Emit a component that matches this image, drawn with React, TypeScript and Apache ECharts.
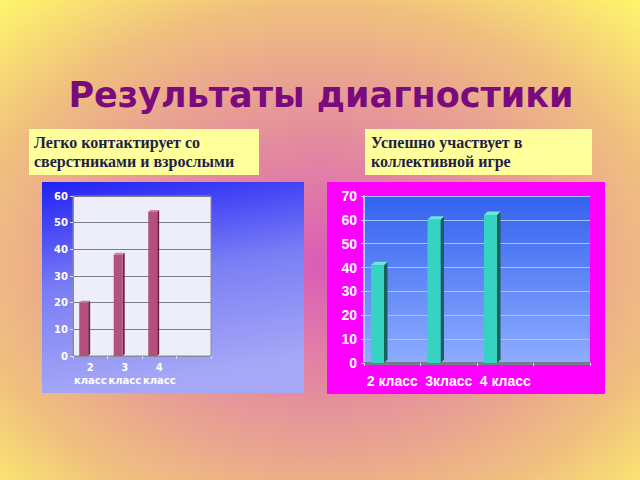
import React, { useEffect, useRef } from "react";
import * as echarts from "echarts";

const leftCategories = ["2\nкласс", "3\nкласс", "4\nкласс", ""];
const leftValues = [20, 38, 54];
const rightCategories = ["2 класс", "3класс", "4 класс", ""];
const rightValues = [41, 60, 62];

const titleText = "Результаты диагностики";
const leftCaption = "Легко контактирует со\nсверстниками и взрослыми";
const rightCaption = "Успешно участвует в\nколлективной игре";

function make3D(frontFrac: number, widthFrac: number, depth: number, front: string, side: string, topc: string) {
  return (params: any, api: any) => {
    const idx = api.value(0);
    const val = api.value(1);
    const base = api.coord([idx, 0]);
    const top = api.coord([idx, val]);
    const slot = api.size([1, 0])[0];
    const x0 = base[0] - slot * frontFrac;
    const w = slot * widthFrac;
    const y0 = top[1];
    const y1 = base[1];
    const d = depth;
    return {
      type: "group",
      children: [
        { type: "polygon", shape: { points: [[x0 + w, y0], [x0 + w + d, y0 - d], [x0 + w + d, y1 - d], [x0 + w, y1]] }, style: { fill: side } },
        { type: "polygon", shape: { points: [[x0, y0], [x0 + d, y0 - d], [x0 + w + d, y0 - d], [x0 + w, y0]] }, style: { fill: topc } },
        { type: "rect", shape: { x: x0, y: y0, width: w, height: y1 - y0 }, style: { fill: front } },
      ],
    };
  };
}

export default function App() {
  const ref = useRef<HTMLDivElement>(null);
  useEffect(() => {
    const chart = echarts.init(ref.current!, null, { renderer: "svg" });
    const option: any = {
      animation: false,
      graphic: [
        {
          type: "rect", z: -100, shape: { x: 0, y: 0, width: 640, height: 480 },
          style: {
            fill: {
              type: "radial", x: 0.5, y: 0.55, r: 0.75,
              colorStops: [
                { offset: 0, color: "#d95cb8" },
                { offset: 0.45, color: "#e79a96" },
                { offset: 0.72, color: "#f0c07e" },
                { offset: 1, color: "#fff86a" },
              ],
            },
          },
        },
        {
          type: "rect", z: -90, shape: { x: 42, y: 182, width: 262, height: 211 },
          style: {
            fill: {
              type: "linear", x: 0, y: 0, x2: 0.2, y2: 1,
              colorStops: [
                { offset: 0, color: "#2020f4" },
                { offset: 0.5, color: "#7a7ef4" },
                { offset: 1, color: "#a6a8f6" },
              ],
            },
          },
        },
        { type: "rect", z: -90, shape: { x: 327, y: 182, width: 278, height: 212 }, style: { fill: "#ff00ff" } },
        { type: "rect", z: -90, shape: { x: 29, y: 129, width: 230, height: 46 }, style: { fill: "#ffff9c" } },
        { type: "rect", z: -90, shape: { x: 365, y: 129, width: 227, height: 46 }, style: { fill: "#ffff9c" } },
        {
          type: "text", x: 321, y: 95,
          style: { text: titleText, fill: "#7a0a7e", font: "bold 35px 'DejaVu Sans'", align: "center", verticalAlign: "middle" },
        },
        {
          type: "text", x: 34, y: 133,
          style: { text: leftCaption, fill: "#1e1e48", font: "bold 16px 'Liberation Serif'", lineHeight: 19, align: "left", verticalAlign: "top" },
        },
        {
          type: "text", x: 371, y: 133,
          style: { text: rightCaption, fill: "#1e1e48", font: "bold 16px 'Liberation Serif'", lineHeight: 19, align: "left", verticalAlign: "top" },
        },
      ],
      grid: [
        { left: 73, top: 196, width: 138, height: 160, show: true, backgroundColor: "#eeeefa", borderColor: "#8a8a9a", borderWidth: 1, outerBoundsMode: "none", containLabel: false },
        {
          left: 364, top: 196, width: 226, height: 167, show: true, borderWidth: 0, outerBoundsMode: "none", containLabel: false,
          backgroundColor: {
            type: "linear", x: 0, y: 0, x2: 0, y2: 1,
            colorStops: [{ offset: 0, color: "#3462ee" }, { offset: 1, color: "#8eacff" }],
          },
        },
      ],
      xAxis: [
        {
          type: "category", gridIndex: 0, data: leftCategories, boundaryGap: true,
          axisLine: { lineStyle: { color: "#8a8a9a", width: 1 } },
          axisTick: { show: true, length: 3, lineStyle: { color: "#dde" } },
          axisLabel: { color: "#fff", fontWeight: "bold", fontSize: 10, fontFamily: "DejaVu Sans", lineHeight: 13, margin: 5, interval: 0 },
        },
        {
          type: "category", gridIndex: 1, data: rightCategories, boundaryGap: true,
          axisLine: { lineStyle: { color: "#7a7a8a", width: 3 } },
          axisTick: { show: true, length: 3, lineStyle: { color: "#c8d8ff" } },
          axisLabel: { color: "#fff", fontWeight: "bold", fontSize: 14, fontFamily: "Liberation Sans", margin: 11, interval: 0 },
        },
      ],
      yAxis: [
        {
          type: "value", gridIndex: 0, min: 0, max: 60, interval: 10,
          axisLine: { show: true, lineStyle: { color: "#8a8a9a" } },
          axisTick: { show: true, length: 3, lineStyle: { color: "#dde" } },
          splitLine: { lineStyle: { color: "#7c7c88", width: 1.2 } },
          axisLabel: { color: "#fff", fontWeight: "bold", fontSize: 10, fontFamily: "DejaVu Sans", margin: 5 },
        },
        {
          type: "value", gridIndex: 1, min: 0, max: 70, interval: 10,
          axisLine: { show: true, lineStyle: { color: "#b0ccff", width: 2 } },
          axisTick: { show: true, length: 3, lineStyle: { color: "#c8d8ff" } },
          splitLine: { lineStyle: { color: "#a4c4ff", width: 1 } },
          axisLabel: { color: "#fff", fontWeight: "bold", fontSize: 14, fontFamily: "Liberation Sans", margin: 7 },
        },
      ],
      series: [
        {
          type: "custom", xAxisIndex: 0, yAxisIndex: 0,
          data: leftValues.map((v, i) => [i, v]),
          encode: { x: 0, y: 1 },
          renderItem: make3D(0.32, 0.26, 2, "#b2507e", "#6e2048", "#d27aa2"),
        },
        {
          type: "custom", xAxisIndex: 1, yAxisIndex: 1,
          data: rightValues.map((v, i) => [i, v]),
          encode: { x: 0, y: 1 },
          renderItem: make3D(0.376, 0.23, 3.5, "#36d2c2", "#17615a", "#6ae8da"),
        },
      ],
    };
    chart.setOption(option);
    return () => chart.dispose();
  }, []);
  return <div ref={ref} style={{ position: "absolute", left: 0, top: 0, width: 640, height: 480 }} />;
}
